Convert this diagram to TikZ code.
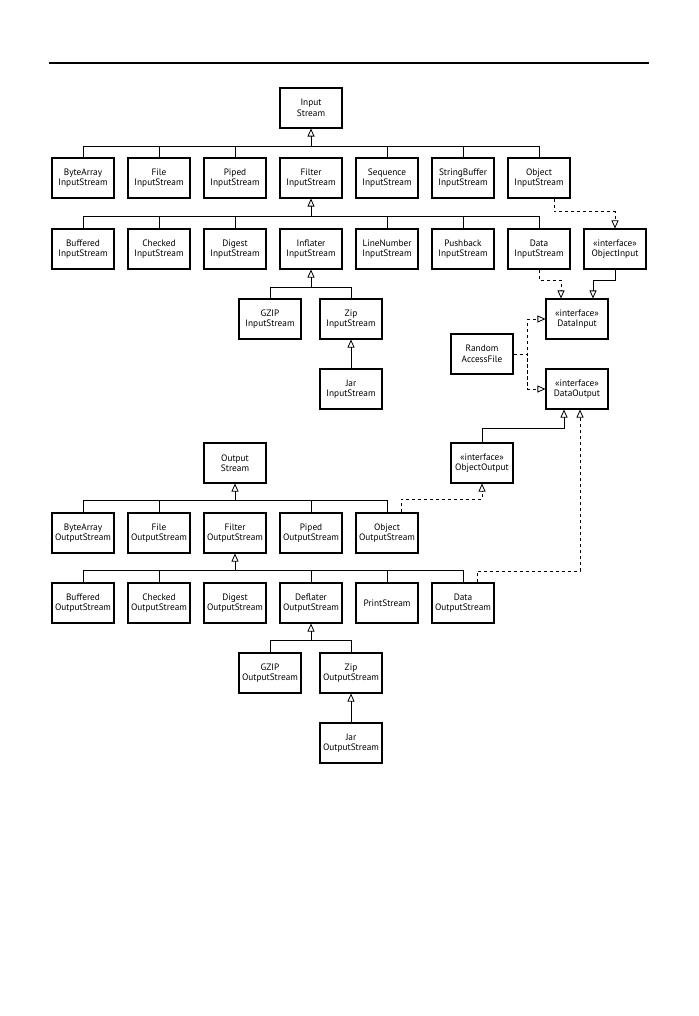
\documentclass[tikz,border=0pt]{standalone}
\usepackage{fontspec}
\setmainfont{PT Sans}
\usetikzlibrary{arrows.meta,calc}
\begin{document}
\begin{tikzpicture}[x=1pt,y=-1pt,
  cls/.style={draw,line width=1.1pt,minimum width=62pt,minimum height=40pt,inner sep=0pt,align=center,font=\fontsize{9.3}{10.5}\selectfont},
  link/.style={line width=0.8pt},
  inh/.style={link,-{Triangle[open,length=8pt,width=7pt,line width=0.8pt]}},
  real/.style={inh,dash pattern=on 3.5pt off 2.5pt},
]
\useasboundingbox (0,0) rectangle (698,1016);
\draw[line width=1.3pt] (49,63) -- (649,63);
% input side
\node[cls] (is) at (311,108) {Input\\Stream};
\node[cls] (bais) at (83,178) {ByteArray\\InputStream};
\node[cls] (fis) at (159,178) {File\\InputStream};
\node[cls] (pis) at (235,178) {Piped\\InputStream};
\node[cls] (fltis) at (311,178) {Filter\\InputStream};
\node[cls] (sis) at (387,178) {Sequence\\InputStream};
\node[cls] (sbis) at (463,178) {StringBuffer\\InputStream};
\node[cls] (ois) at (539,178) {Object\\InputStream};
\node[cls] (bis) at (83,249) {Buffered\\InputStream};
\node[cls] (cis) at (159,249) {Checked\\InputStream};
\node[cls] (dis) at (235,249) {Digest\\InputStream};
\node[cls] (iis) at (311,249) {Inflater\\InputStream};
\node[cls] (lnis) at (387,249) {LineNumber\\InputStream};
\node[cls] (pbis) at (463,249) {Pushback\\InputStream};
\node[cls] (dais) at (539,249) {Data\\InputStream};
\node[cls] (oi) at (615,249) {«interface»\\ObjectInput};
\node[cls] (gzis) at (270,319) {GZIP\\InputStream};
\node[cls] (zis) at (351,319) {Zip\\InputStream};
\node[cls] (jis) at (351,389) {Jar\\InputStream};
\node[cls] (di) at (577,319) {«interface»\\DataInput};
\node[cls] (raf) at (482,354) {Random\\AccessFile};
\node[cls] (do) at (577,389) {«interface»\\DataOutput};
% output side
\node[cls] (oo) at (482,463) {«interface»\\ObjectOutput};
\node[cls] (os) at (235,463) {Output\\Stream};
\node[cls] (baos) at (83,533) {ByteArray\\OutputStream};
\node[cls] (fos) at (159,533) {File\\OutputStream};
\node[cls] (fltos) at (235,533) {Filter\\OutputStream};
\node[cls] (pos) at (311,533) {Piped\\OutputStream};
\node[cls] (oos) at (387,533) {Object\\OutputStream};
\node[cls] (bos) at (83,603) {Buffered\\OutputStream};
\node[cls] (cos) at (159,603) {Checked\\OutputStream};
\node[cls] (dos) at (235,603) {Digest\\OutputStream};
\node[cls] (dfos) at (311,603) {Deflater\\OutputStream};
\node[cls] (ps) at (387,603) {PrintStream};
\node[cls] (daos) at (463,603) {Data\\OutputStream};
\node[cls] (gzos) at (270,673) {GZIP\\OutputStream};
\node[cls] (zos) at (351,673) {Zip\\OutputStream};
\node[cls] (jos) at (351,743) {Jar\\OutputStream};
% levels
\coordinate (b1) at (0,146.5);
\coordinate (b2) at (0,216.7);
\coordinate (b3) at (0,287.7);
\coordinate (b4) at (0,500.7);
\coordinate (b5) at (0,570.7);
\coordinate (b6) at (0,640);
\coordinate (l1) at (0,211.7);
\coordinate (l2) at (0,280);
\coordinate (l3) at (0,428.3);
\coordinate (l4) at (0,571);
\coordinate (l5) at (0,499.3);
% row 1
\draw[link] (bais.north) |- (ois.north |- b1) -- (ois.north);
\foreach \n in {fis,pis,sis,sbis} \draw[link] (\n.north) -- (\n.north |- b1);
\draw[inh] (fltis.north |- b1) -- (is.south);
% row 2
\draw[link] (bis.north) |- (dais.north |- b2) -- (dais.north);
\foreach \n in {cis,dis,lnis,pbis} \draw[link] (\n.north) -- (\n.north |- b2);
\draw[inh] (iis.north |- b2) -- (fltis.south);
% gzip/zip in
\draw[link] (gzis.north) |- (zis.north |- b3) -- (zis.north);
\draw[inh] (iis.south |- b3) -- (iis.south);
\draw[inh] (jis.north) -- (zis.south);
% interfaces
\draw[real] ([xshift=15pt]ois.south) |- (oi.north |- l1) -- (oi.north);
\draw[real] (dais.south) |- ([xshift=-16pt]di.north |- l2) -- ([xshift=-16pt]di.north);
\draw[inh] (oi.south) |- ([xshift=16pt]di.north |- l2) -- ([xshift=16pt]di.north);
\draw[real] (raf.east) -- ++(14,0) |- (di.west);
\draw[real] (raf.east) -- ++(14,0) |- (do.west);
\draw[inh] (oo.north) |- ([xshift=-13pt]do.south |- l3) -- ([xshift=-13pt]do.south);
\draw[real] ([xshift=14pt]daos.north) |- ([xshift=3pt]do.south |- l4) -- ([xshift=3pt]do.south);
\draw[real] ([xshift=14pt]oos.north) |- (oo.south |- l5) -- (oo.south);
% row 3
\draw[link] (baos.north) |- (oos.north |- b4) -- (oos.north);
\foreach \n in {fos,pos} \draw[link] (\n.north) -- (\n.north |- b4);
\draw[inh] (fltos.north |- b4) -- (os.south);
% row 4
\draw[link] (bos.north) |- (daos.north |- b5) -- (daos.north);
\foreach \n in {cos,dfos,ps} \draw[link] (\n.north) -- (\n.north |- b5);
\draw[inh] (dos.north |- b5) -- (fltos.south);
% gzip/zip out
\draw[link] (gzos.north) |- (zos.north |- b6) -- (zos.north);
\draw[inh] (dfos.south |- b6) -- (dfos.south);
\draw[inh] (jos.north) -- (zos.south);
\end{tikzpicture}
\end{document}
